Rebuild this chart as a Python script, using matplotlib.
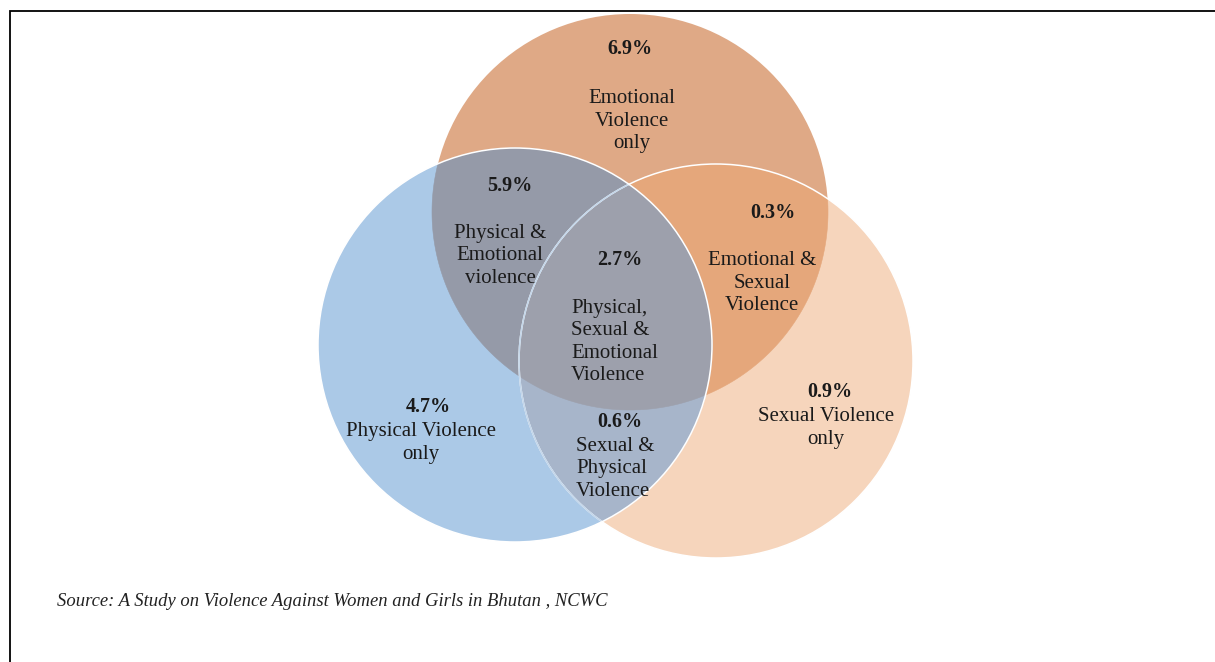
import numpy as np
import matplotlib
matplotlib.use("Agg")
import matplotlib.pyplot as plt
from matplotlib.patches import Circle, Polygon

plt.rcParams['font.family'] = ['Liberation Serif', 'DejaVu Serif']

# share of women per violence combination (%)
regions = [("E",), ("P",), ("S",), ("P", "E"), ("E", "S"), ("P", "S"), ("P", "E", "S")]
shares = [6.9, 4.7, 0.9, 5.9, 0.3, 0.6, 2.7]
names = ["Emotional\nViolence\nonly",
         "Physical Violence\nonly",
         "Sexual Violence\nonly",
         "Physical &\nEmotional\nviolence",
         "Emotional &\nSexual\nViolence",
         "Sexual &\nPhysical\nViolence",
         "Physical,\nSexual &\nEmotional\nViolence"]
source = "Source: A Study on Violence Against Women and Girls in Bhutan , NCWC"

# circle geometry in pixel space: centre x, centre y, radius
circles = {"E": (630, 212, 198), "P": (515, 345, 197), "S": (716, 361, 197)}
fills = {("E",): "#dfa986", ("P",): "#abc9e7", ("S",): "#f6d5bc",
         ("P", "E"): "#959aa8", ("E", "S"): "#e5a77b", ("P", "S"): "#a7b5ca",
         ("P", "E", "S"): "#9da0ac"}
# where each figure/caption sits: pct xy, caption xy, alignment
spots = {("E",): ((630, 49), (632, 121), "center"),
         ("P",): ((428, 407), (421, 443), "center"),
         ("S",): ((830, 392), (826, 428), "center"),
         ("P", "E"): ((510, 186), (500, 256), "center"),
         ("E", "S"): ((773, 213), (762, 283), "center"),
         ("P", "S"): ((620, 422), (576, 469), "left"),
         ("P", "E", "S"): ((620, 260), (571, 342), "left")}


def overlap(keys, n=1440):
    """Polygon of the intersection of the named circles (convex)."""
    t = np.linspace(0, 2 * np.pi, n, endpoint=False)
    pts = []
    for k in keys:
        cx, cy, r = circles[k]
        p = np.column_stack([cx + r * np.cos(t), cy + r * np.sin(t)])
        keep = np.ones(n, bool)
        for o in keys:
            if o == k:
                continue
            ox, oy, orr = circles[o]
            keep &= np.hypot(p[:, 0] - ox, p[:, 1] - oy) <= orr + 0.01
        pts.append(p[keep])
    pts = np.vstack(pts)
    c = pts.mean(axis=0)
    order = np.argsort(np.arctan2(pts[:, 1] - c[1], pts[:, 0] - c[0]))
    return pts[order]


fig = plt.figure(figsize=(12.15, 6.62), dpi=100)
ax = fig.add_axes([0, 0, 1, 1])
ax.set_xlim(0, 1215)
ax.set_ylim(662, 0)
ax.axis("off")

for k in ["E", "S", "P"]:
    cx, cy, r = circles[k]
    ax.add_patch(Circle((cx, cy), r, facecolor=fills[(k,)], edgecolor="none"))
for keys in regions[3:]:
    ax.add_patch(Polygon(overlap(keys), closed=True, facecolor=fills[keys],
                         edgecolor=fills[keys], lw=0.4))

# outlines: sexual circle shows tinted through the physical one
sx, sy, sr = circles["S"]
px, py, pr = circles["P"]
ax.add_patch(Circle((sx, sy), sr, fill=False, edgecolor="white", lw=1.1))
clip = Circle((px, py), pr, transform=ax.transData)
inner = Circle((sx, sy), sr, fill=False, edgecolor="#c3d6ea", lw=1.1)
ax.add_patch(inner)
inner.set_clip_path(clip)
ax.add_patch(Circle((px, py), pr, fill=False, edgecolor="white", lw=1.1))

for keys, val, name in zip(regions, shares, names):
    (vx, vy), (nx, ny), ha = spots[keys]
    ax.text(vx, vy, f"{val}%", ha="center", va="center", fontsize=14.5,
            fontweight="bold", color="#1a1a1a")
    ax.text(nx, ny, name, ha=ha, va="center", fontsize=15,
            linespacing=1.26, color="#1a1a1a", multialignment=ha)

ax.text(57, 602, source, ha="left", va="center", fontsize=13.4,
        style="italic", color="#222222")

# page frame
ax.plot([10, 10, 1215], [662, 11, 11], color="black", lw=1.3,
        solid_joinstyle="miter")

fig.savefig("out.png", dpi=100)
